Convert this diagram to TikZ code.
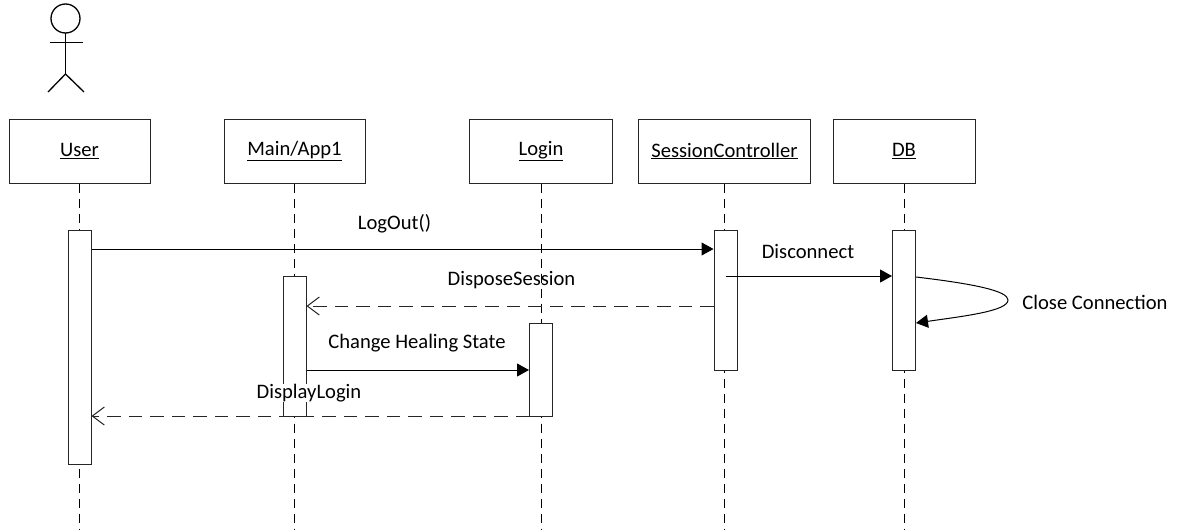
\documentclass[tikz,border=0pt]{standalone}
\usepackage{fontspec}
\setmainfont{Carlito}
\usetikzlibrary{arrows.meta}
\tikzset{
  x=1pt,y=-1pt,
  objbox/.style={draw=black!85,line width=1pt,fill=white,minimum width=#1,minimum height=64pt,inner sep=0pt,font=\fontsize{20.6pt}{24pt}\selectfont},
  actbar/.style={draw=black!85,line width=1pt,fill=white,minimum width=23pt,inner sep=0pt},
  lifeline/.style={draw=black,line width=1pt,dash pattern=on 9pt off 6pt},
  callmsg/.style={draw=black,line width=1pt,-{Triangle[length=12pt,width=13pt]}},
  replymsg/.style={draw=black!85,line width=1pt,dash pattern=on 13.5pt off 8pt,-{Straight Barb[length=12pt,width=18pt,line width=1pt]}},
  msglabel/.style={inner sep=1pt,font=\fontsize{20.6pt}{24pt}\selectfont},
  actorline/.style={draw=black,line width=1.3pt}
}
\newcommand{\objname}[1]{\raisebox{-1.5pt}{\underline{#1}}}
\begin{document}
\begin{tikzpicture}
\useasboundingbox (0,0) rectangle (1178,530);
% object boxes
\node[objbox=141pt] (user) at (79.5,151) {\objname{User}};
\node[objbox=141pt] (main) at (294.5,151) {\objname{Main/App1}};
\node[objbox=143pt] (login) at (541,151) {\objname{Login}};
\node[objbox=172pt] (sc) at (724.5,151) {\objname{SessionController}};
\node[objbox=142pt] (db) at (904,151) {\objname{DB}};
% lifeline ends
\coordinate (userEnd) at (79.5,530);
\coordinate (mainEnd) at (294.5,530);
\coordinate (loginEnd) at (541,530);
\coordinate (scEnd) at (724.5,530);
\coordinate (dbEnd) at (904,530);
\draw[lifeline] (user.south) -- (userEnd);
\draw[lifeline] (main.south) -- (mainEnd);
\draw[lifeline] (login.south) -- (loginEnd);
\draw[lifeline] (sc.south) -- (scEnd);
\draw[lifeline] (db.south) -- (dbEnd);
% activation bars
\node[actbar,minimum height=234pt] (userA) at (79.5,347) {};
\node[actbar,minimum height=140pt] (mainA) at (294.5,346) {};
\node[actbar,minimum height=93pt] (loginA) at (541,369.5) {};
\node[actbar,minimum height=140pt] (scA) at (725.5,300) {};
\node[actbar,minimum height=140pt] (dbA) at (904,300) {};
% message ends
\coordinate (m1a) at (userA.east |- 0,249);
\coordinate (m1b) at (scA.west |- 0,249);
\coordinate (m2a) at (725.5,276);
\coordinate (m2b) at (dbA.west |- 0,276);
\coordinate (m3a) at (scA.west |- 0,306);
\coordinate (m3b) at (mainA.east |- 0,306);
\coordinate (m4a) at (mainA.east |- 0,370);
\coordinate (m4b) at (loginA.west |- 0,370);
\coordinate (m5a) at (loginA.west |- 0,416);
\coordinate (m5b) at (userA.east |- 0,416);
\coordinate (s1) at (dbA.east |- 0,277);
\coordinate (s2) at (dbA.east |- 0,323);
% messages
\draw[callmsg] (m1a) -- (m1b);
\draw[callmsg] (m2a) -- (m2b);
\draw[replymsg] (m3a) -- (m3b);
\draw[callmsg] (m4a) -- (m4b);
\draw[replymsg] (m5a) -- (m5b);
\draw[callmsg] (s1) .. controls (975,284) and (1008,291) .. (1008,300) .. controls (1008,311) and (965,316) .. (s2);
% labels
\node[msglabel] (l1) at (394.5,223.5) {LogOut()};
\node[msglabel] (l2) at (808,251.5) {Disconnect};
\node[msglabel] (l3) at (511.5,280) {DisposeSession};
\node[msglabel] (l4) at (417,343) {Change Healing State};
\node[msglabel,fill=white,inner sep=0pt] (l5) at (309,393) {DisplayLogin};
\node[msglabel] (l6) at (1095,302) {Close Connection};
% actor
\coordinate (head) at (65.5,18.5);
\coordinate (neck) at (65.5,33);
\coordinate (hip) at (65.5,74);
\coordinate (armL) at (49.5,42.5);
\coordinate (armR) at (82.5,42.5);
\coordinate (footL) at (48,92);
\coordinate (footR) at (84,92);
\draw[actorline] (head) circle (14.5pt);
\draw[actorline] (neck) -- (hip);
\draw[actorline] (armL) -- (armR);
\draw[actorline] (footL) -- (hip) -- (footR);
\end{tikzpicture}
\end{document}
